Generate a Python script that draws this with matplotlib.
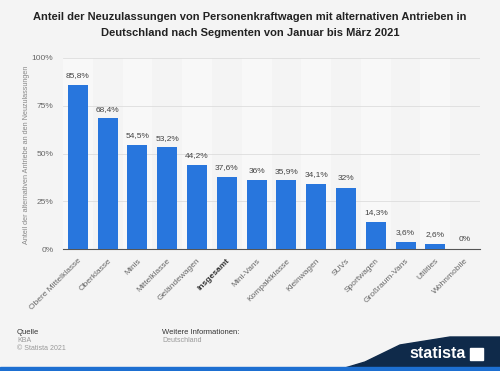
import matplotlib.pyplot as plt
from matplotlib.patches import Polygon, Rectangle

segments = ["Obere Mittelklasse", "Oberklasse", "Minis", "Mittelklasse", "Geländewagen",
            "Insgesamt", "Mini-Vans", "Kompaktklasse", "Kleinwagen", "SUVs",
            "Sportwagen", "Großraum-Vans", "Utilities", "Wohnmobile"]
shares = [85.8, 68.4, 54.5, 53.2, 44.2, 37.6, 36, 35.9, 34.1, 32, 14.3, 3.6, 2.6, 0]
value_labels = ["85,8%", "68,4%", "54,5%", "53,2%", "44,2%", "37,6%", "36%", "35,9%",
                "34,1%", "32%", "14,3%", "3,6%", "2,6%", "0%"]

plt.rcParams["font.family"] = ["Liberation Sans", "DejaVu Sans"]

fig = plt.figure(figsize=(5, 3.71), dpi=100, facecolor="#f4f4f4")
ax = fig.add_axes([63 / 500, 1 - 249 / 371, 417 / 500, 191 / 371])
ax.set_facecolor("#f4f4f4")

x = list(range(len(segments)))
# alternating column stripes
for i in x:
    if i % 2 == 0:
        ax.axvspan(i - 0.5, i + 0.5, color="#f8f8f8", zorder=0, lw=0)

ax.bar(x, shares, width=0.67, color="#2876dd", zorder=3)
for i, v in enumerate(shares):
    ax.text(i, v + 3, value_labels[i], ha="center", va="bottom", fontsize=6, color="#444444", zorder=4)

ax.set_xlim(-0.5, len(segments) - 0.5)
ax.set_ylim(0, 100)
ax.set_yticks([0, 25, 50, 75, 100])
ax.set_yticklabels(["0%", "25%", "50%", "75%", "100%"], fontsize=6, color="#666666")
ax.yaxis.grid(True, color="#dddddd", lw=0.6, zorder=1)
ax.tick_params(axis="y", length=0, pad=7)
ax.tick_params(axis="x", length=0, pad=6)
ax.set_xticks(x)
ax.set_xticklabels(segments, rotation=45, ha="right", rotation_mode="anchor", fontsize=6, color="#666666")
for lbl in ax.get_xticklabels():
    if lbl.get_text() == "Insgesamt":
        lbl.set_fontweight("bold")
        lbl.set_color("#333333")
for s in ["top", "right", "left"]:
    ax.spines[s].set_visible(False)
ax.spines["bottom"].set_color("#555555")
ax.spines["bottom"].set_linewidth(0.8)

fig.text(27 / 500, 1 - 155 / 371, "Anteil der alternativen Antriebe an den Neuzulassungen",
         rotation=90, ha="center", va="center", fontsize=5.2, color="#888888")

fig.text(0.5, 1 - 17 / 371, "Anteil der Neuzulassungen von Personenkraftwagen mit alternativen Antrieben in",
         ha="center", va="center", fontsize=8, fontweight="bold", color="#222222")
fig.text(0.5, 1 - 33 / 371, "Deutschland nach Segmenten von Januar bis März 2021",
         ha="center", va="center", fontsize=8, fontweight="bold", color="#222222")

# footer
fig.text(17 / 500, 1 - 332 / 371, "Quelle", fontsize=5.5, color="#333333", va="center")
fig.text(17 / 500, 1 - 340 / 371, "KBA", fontsize=5, color="#999999", va="center")
fig.text(17 / 500, 1 - 348 / 371, "© Statista 2021", fontsize=5, color="#999999", va="center")
fig.text(162 / 500, 1 - 332 / 371, "Weitere Informationen:", fontsize=5.5, color="#333333", va="center")
fig.text(162 / 500, 1 - 340 / 371, "Deutschland", fontsize=5, color="#999999", va="center")

# statista logo band
fig.patches.append(Polygon([[335 / 500, 0], [1, 0], [1, 1 - 337 / 371], [450 / 500, 1 - 337 / 371],
                            [400 / 500, 1 - 345 / 371], [365 / 500, 1 - 362 / 371]],
                           closed=True, transform=fig.transFigure, color="#0f2a4a", zorder=1))
fig.patches.append(Rectangle((0, 0), 1, 4 / 371, transform=fig.transFigure, color="#1d6fd1", zorder=2))
fig.text(466 / 500, 1 - 354 / 371, "statista", fontsize=11.5, fontweight="bold", color="white",
         ha="right", va="center", zorder=3)
fig.patches.append(Rectangle((470 / 500, 1 - 360 / 371), 13 / 500, 12 / 371, transform=fig.transFigure,
                             color="white", zorder=3))

fig.savefig("out.png", dpi=100, facecolor=fig.get_facecolor())
